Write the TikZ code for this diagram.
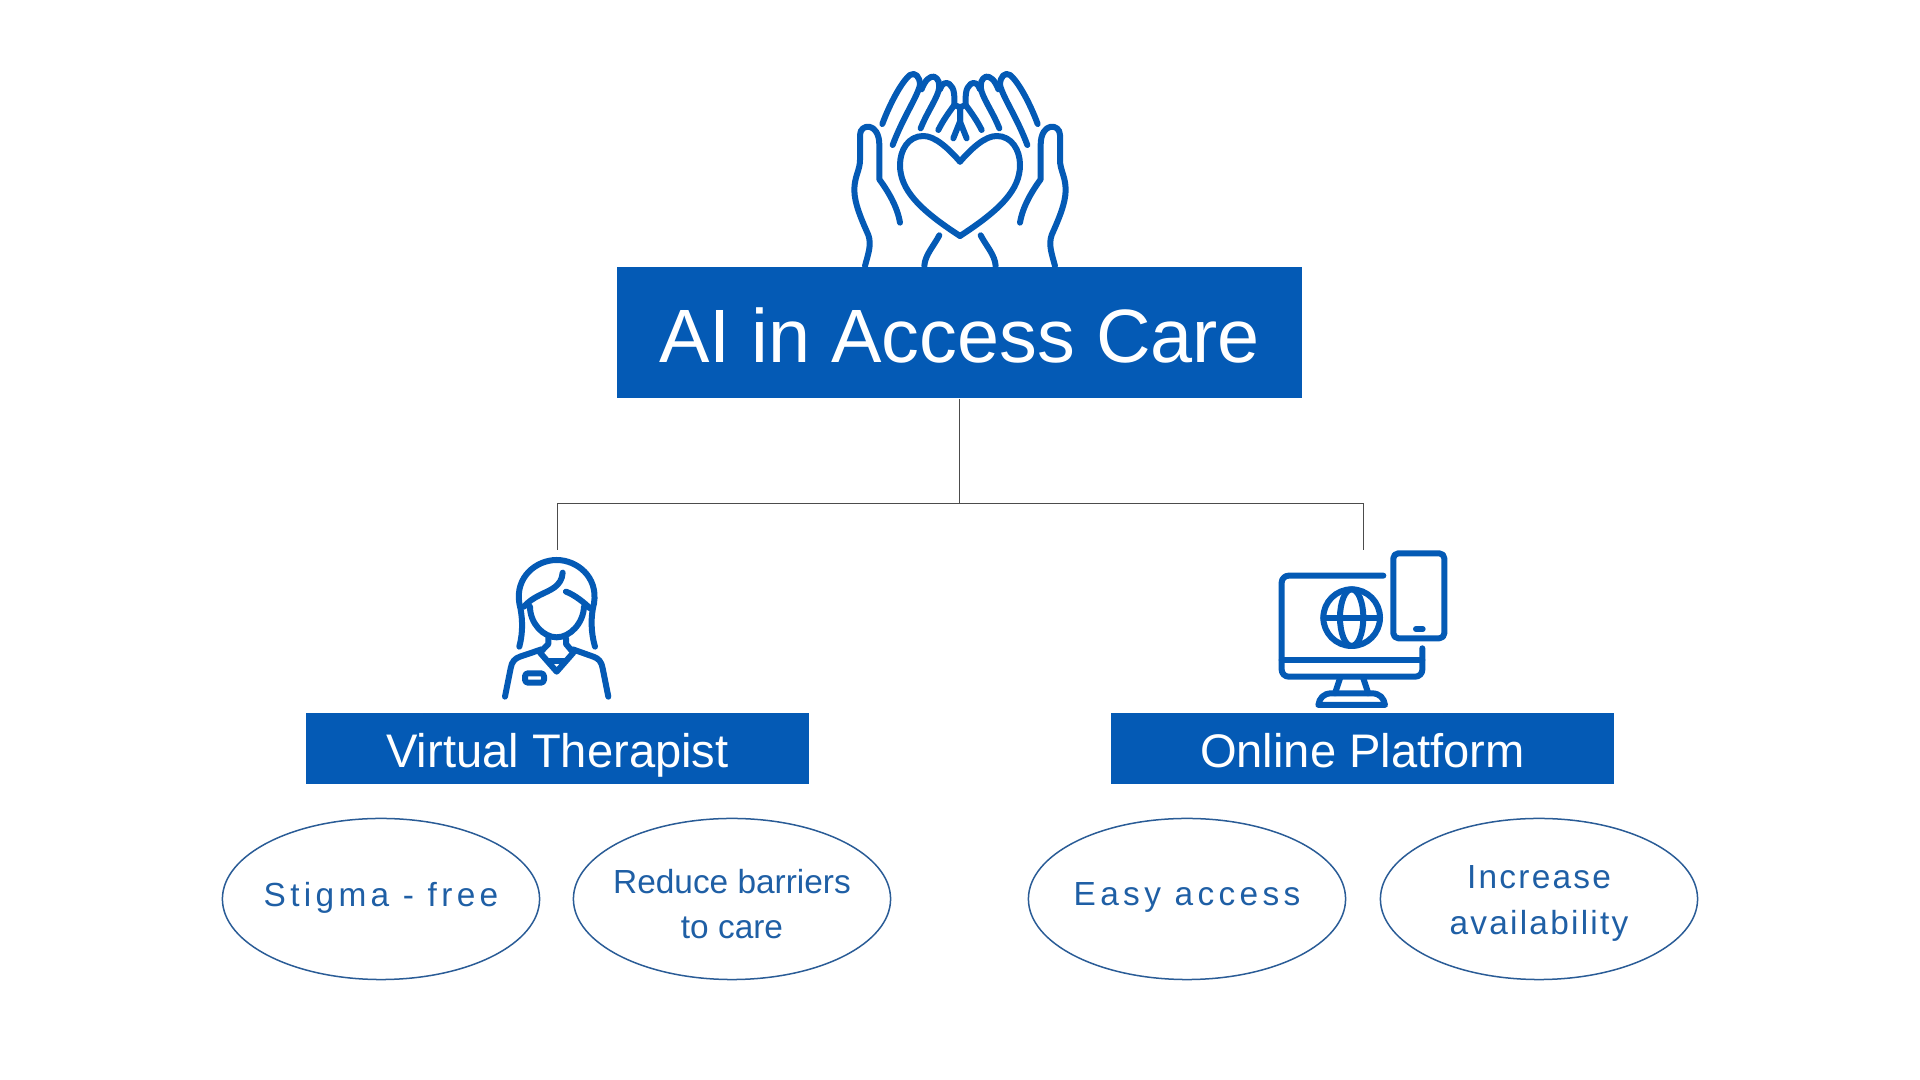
\documentclass[tikz,border=0pt]{standalone}
\usepackage{fontspec}
\setmainfont{Liberation Sans}
\newfontfamily\spaceA[LetterSpace=13]{Liberation Sans}
\newfontfamily\spaceB[LetterSpace=6.7]{Liberation Sans}
\usetikzlibrary{shapes.geometric}
\definecolor{boxblue}{HTML}{045AB5}
\definecolor{ovalline}{HTML}{2A5C96}
\definecolor{ovaltext}{HTML}{1F5FA5}
\tikzset{
 headbox/.style={fill=boxblue,text=white,inner sep=0,minimum width=6.84cm,minimum height=1.31cm,text height=17pt,text depth=0pt,font=\fontsize{21.5}{26}\selectfont},
 subbox/.style={fill=boxblue,text=white,inner sep=0,minimum width=5.03cm,minimum height=.71cm,text height=10.8pt,text depth=0pt,font=\fontsize{13.4}{16}\selectfont},
 oval/.style={draw=ovalline,line width=.15mm,ellipse,inner sep=-.5cm,minimum width=3.17cm,minimum height=1.61cm,text=ovaltext,align=center},
 icon/.style={draw=boxblue,line width=.6mm,line cap=round,line join=round},
 link/.style={draw=black!70,line width=.11mm}
}
\begin{document}
\begin{tikzpicture}[x=.01cm,y=-.01cm]
 \useasboundingbox (0,0) rectangle (1920,1080);

 \node[headbox] (root) at (959.5,332.5) {AI in Access Care};
 \node[subbox] (therapist) at (557.5,748.5) {Virtual Therapist};
 \node[subbox] (platform) at (1362.5,748.5) {Online Platform};

 \node[oval,font=\fontsize{9.5}{12.9}\selectfont\spaceA] (stigma) at (381,899) {Stigma - free\rule[-2.7pt]{0pt}{0pt}};
 \node[oval,font=\fontsize{9.5}{12.9}\selectfont] (barriers) at (732,899) {\rule{0pt}{9.7pt}Reduce barriers\\to care};
 \node[oval,font=\fontsize{9.5}{12.9}\selectfont\spaceA] (easy) at (1187,899) {Easy access\rule[-2.7pt]{0pt}{0pt}};
 \node[oval,font=\fontsize{9.5}{12.9}\selectfont\spaceB] (increase) at (1539,899) {\rule{0pt}{9pt}Increase\\availability};

 \coordinate (split) at (959.5,503.5);
 \coordinate (therapisttop) at (557.5,550);
 \coordinate (platformtop) at (1363.5,550);
 \draw[link] (root.south)--(split);
 \draw[link] (therapisttop) |- (split) -| (platformtop);

 % hands
 \begin{scope}[shift={(820,50)},scale=1/3]
 \foreach \s in {1,-1}
 {
 \begin{scope}[shift={(420,0)},xscale=\s,shift={(-420,0)}]
 \draw[icon] (420,335) .. controls (385,295) and (345,258) .. (310,258)
   .. controls (265,258) and (240,300) .. (240,345)
   .. controls (240,420) and (300,480) .. (420,558);
 \draw[icon] (135,648) .. controls (145,610) and (155,585) .. (145,555)
   .. controls (125,510) and (103,460) .. (103,420)
   .. controls (103,380) and (120,360) .. (120,330) -- (120,255)
   .. controls (120,220) and (178,215) .. (178,285) -- (178,388)
   .. controls (205,425) and (232,470) .. (240,518);
 \draw[icon] (358,556) .. controls (340,590) and (315,615) .. (313,648);
 \draw[icon] (187,222) .. controls (210,160) and (245,95) .. (270,75)
   .. controls (285,65) and (300,80) .. (300,105)
   .. controls (290,145) and (250,200) .. (218,285);
 \draw[icon] (305,118) .. controls (315,90) and (330,78) .. (342,80)
   .. controls (355,85) and (362,100) .. (355,125)
   .. controls (345,155) and (320,190) .. (302,235);
 \draw[icon] (360,118) .. controls (365,100) and (378,95) .. (388,102)
   .. controls (405,115) and (403,140) .. (403,165) -- (420,172);
 \draw[icon] (355,240) .. controls (370,210) and (385,190) .. (403,165);
 \draw[icon] (420,172) -- (420,215) -- (400,265);
 \end{scope}
 }
 \end{scope}

 % therapist
 \begin{scope}[shift={(480,540)},scale=1/3]
 \draw[icon] (118,320) .. controls (130,275) and (128,230) .. (118,190)
   .. controls (105,110) and (170,60) .. (230,60)
   .. controls (290,60) and (355,110) .. (342,190)
   .. controls (332,230) and (332,275) .. (345,320);
 \draw[icon] (248,98) .. controls (245,140) and (210,150) .. (180,165)
   .. controls (160,175) and (145,185) .. (132,200);
 \draw[icon] (258,155) .. controls (285,165) and (315,190) .. (330,205);
 \draw[icon] (150,200) .. controls (150,250) and (190,292) .. (230,292)
   .. controls (270,292) and (310,250) .. (312,200);
 \draw[icon] (205,295) -- (205,312) -- (180,338) -- (230,395) -- (280,338) -- (258,312) -- (258,295);
 \draw[icon] (205,362) -- (255,362);
 \draw[icon] (75,470) -- (92,385) .. controls (95,365) and (105,355) .. (120,350) -- (185,328);
 \draw[icon] (385,470) -- (368,385) .. controls (365,365) and (355,355) .. (340,350) -- (278,328);
 \draw[icon,rounded corners=.03cm] (135,400) rectangle (192,428);
 \end{scope}

 % monitor and phone
 \begin{scope}[shift={(1260,530)},scale=1/3]
 \draw[icon,rounded corners=.07cm] (370,137) -- (65,137) -- (65,440) -- (487,440) -- (487,355);
 \draw[icon] (65,390) -- (487,390);
 \draw[icon] (240,445) -- (225,490);
 \draw[icon] (310,445) -- (325,490);
 \draw[icon] (175,525) .. controls (178,505) and (190,490) .. (215,490) -- (335,490)
   .. controls (360,490) and (372,505) .. (375,525) -- cycle;
 \draw[icon] (275,263) circle (85);
 \draw[icon] (275,263) ellipse (35 and 85);
 \draw[icon] (190,263) -- (360,263);
 \draw[icon,rounded corners=.05cm] (400,70) rectangle (553,325);
 \draw[icon] (468,297) -- (488,297);
 \end{scope}
\end{tikzpicture}
\end{document}
